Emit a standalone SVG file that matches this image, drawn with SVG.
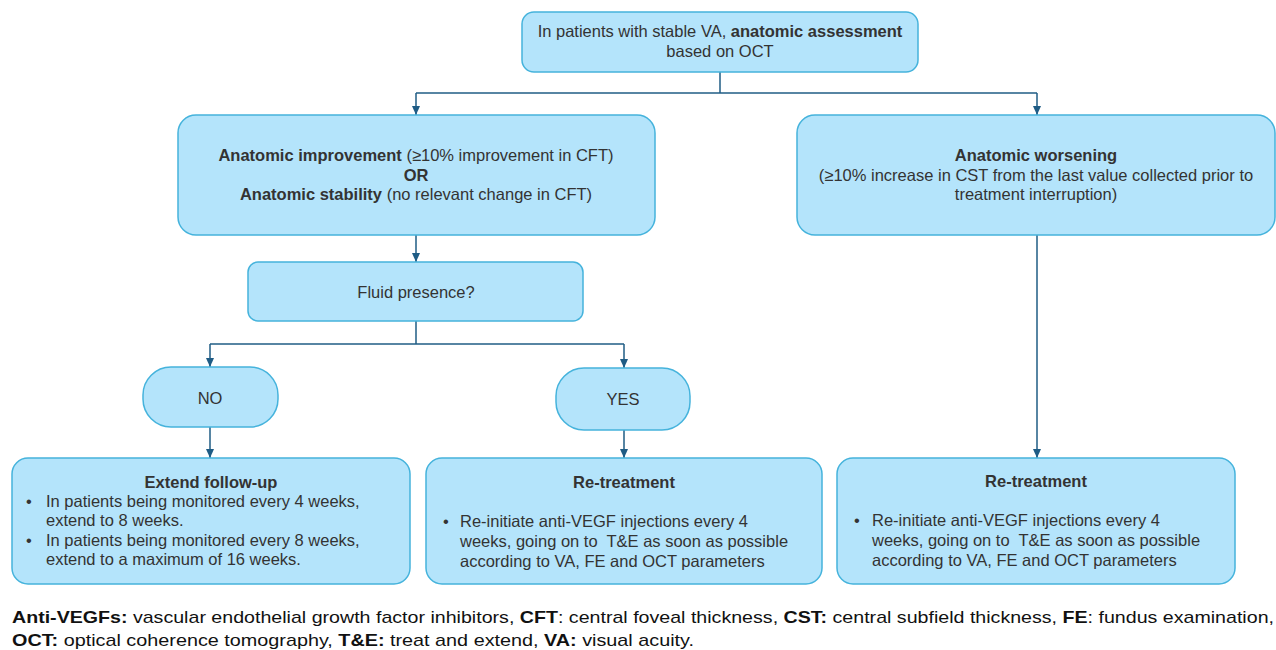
<svg xmlns="http://www.w3.org/2000/svg" width="1276" height="650" viewBox="0 0 1276 650">
<defs>
<style>
.box{fill:#b4e4fb;stroke:#45b3dc;stroke-width:1.5}
.t{font-family:"Liberation Sans",Arial,sans-serif;font-size:16.5px;fill:#333}
.b{font-weight:bold}
.c{text-anchor:middle}
.ln{fill:none;stroke:#1f5c85;stroke-width:1.5}
.f{font-family:"Liberation Sans",Arial,sans-serif;font-size:17px;fill:#111}
</style>
<marker id="a" markerWidth="10" markerHeight="10" refX="9" refY="5" orient="auto" markerUnits="userSpaceOnUse" viewBox="0 0 10 10">
<path d="M0,1 L9,5 L0,9 Z" fill="#1f5c85"/>
</marker>
</defs>
<rect width="1276" height="650" fill="#fff"/>
<g id="connectors">
<path class="ln" d="M720,72 V93"/>
<path class="ln" d="M416,93 H1037"/>
<path class="ln" d="M416,93 V115" marker-end="url(#a)"/>
<path class="ln" d="M1037,93 V115" marker-end="url(#a)"/>
<path class="ln" d="M416,235 V262" marker-end="url(#a)"/>
<path class="ln" d="M416,321 V344"/>
<path class="ln" d="M210,344 H624"/>
<path class="ln" d="M210,344 V367" marker-end="url(#a)"/>
<path class="ln" d="M624,344 V368" marker-end="url(#a)"/>
<path class="ln" d="M210,427 V458" marker-end="url(#a)"/>
<path class="ln" d="M624,430 V458" marker-end="url(#a)"/>
<path class="ln" d="M1037,235 V458" marker-end="url(#a)"/>
</g>
<g id="start">
<rect class="box" x="522" y="12" width="396" height="60" rx="12"/>
<text class="t c" x="720" y="37">In patients with stable VA, <tspan class="b">anatomic assessment</tspan></text>
<text class="t c" x="720" y="57">based on OCT</text>
</g>
<g id="improvement">
<rect class="box" x="178" y="115" width="477" height="120" rx="18"/>
<text class="t c" x="416" y="161"><tspan class="b">Anatomic improvement</tspan> (≥10% improvement in CFT)</text>
<text class="t c b" x="416" y="181">OR</text>
<text class="t c" x="416" y="200"><tspan class="b">Anatomic stability</tspan> (no relevant change in CFT)</text>
</g>
<g id="worsening">
<rect class="box" x="797" y="115" width="478" height="120" rx="18"/>
<text class="t c b" x="1036" y="161">Anatomic worsening</text>
<text class="t c" x="1036" y="181">(≥10% increase in CST from the last value collected prior to</text>
<text class="t c" x="1036" y="200">treatment interruption)</text>
</g>
<g id="fluid">
<rect class="box" x="248" y="262" width="335" height="59" rx="10"/>
<text class="t c" x="416" y="298">Fluid presence?</text>
</g>
<g id="no">
<rect class="box" x="143" y="367" width="135" height="60" rx="28"/>
<text class="t c" x="210" y="404">NO</text>
</g>
<g id="yes">
<rect class="box" x="556" y="368" width="134" height="62" rx="28"/>
<text class="t c" x="623" y="405">YES</text>
</g>
<g id="extend">
<rect class="box" x="12" y="458" width="398" height="126" rx="16"/>
<text class="t c b" x="211" y="488">Extend follow-up</text>
<text class="t" x="26" y="507">•</text>
<text class="t" x="46" y="507">In patients being monitored every 4 weeks,</text>
<text class="t" x="46" y="526">extend to 8 weeks.</text>
<text class="t" x="26" y="546">•</text>
<text class="t" x="46" y="546">In patients being monitored every 8 weeks,</text>
<text class="t" x="46" y="565">extend to a maximum of 16 weeks.</text>
</g>
<g id="retreat1">
<rect class="box" x="426" y="458" width="396" height="126" rx="16"/>
<text class="t c b" x="624" y="488">Re-treatment</text>
<text class="t" x="443" y="527">•</text>
<text class="t" x="460" y="527">Re-initiate anti-VEGF injections every 4</text>
<text class="t" x="460" y="547">weeks, going on to&#160; T&amp;E as soon as possible</text>
<text class="t" x="460" y="567">according to VA, FE and OCT parameters</text>
</g>
<g id="retreat2">
<rect class="box" x="837" y="458" width="398" height="126" rx="16"/>
<text class="t c b" x="1036" y="487">Re-treatment</text>
<text class="t" x="854" y="526">•</text>
<text class="t" x="872" y="526">Re-initiate anti-VEGF injections every 4</text>
<text class="t" x="872" y="546">weeks, going on to&#160; T&amp;E as soon as possible</text>
<text class="t" x="872" y="566">according to VA, FE and OCT parameters</text>
</g>
<g id="footer">
<text class="f" x="12" y="623" textLength="1262" lengthAdjust="spacingAndGlyphs"><tspan class="b">Anti-VEGFs:</tspan> vascular endothelial growth factor inhibitors, <tspan class="b">CFT</tspan>: central foveal thickness, <tspan class="b">CST:</tspan> central subfield thickness, <tspan class="b">FE</tspan>: fundus examination,</text>
<text class="f" x="12" y="646" textLength="682" lengthAdjust="spacingAndGlyphs"><tspan class="b">OCT:</tspan> optical coherence tomography, <tspan class="b">T&amp;E:</tspan> treat and extend, <tspan class="b">VA:</tspan> visual acuity.</text>
</g>
</svg>
